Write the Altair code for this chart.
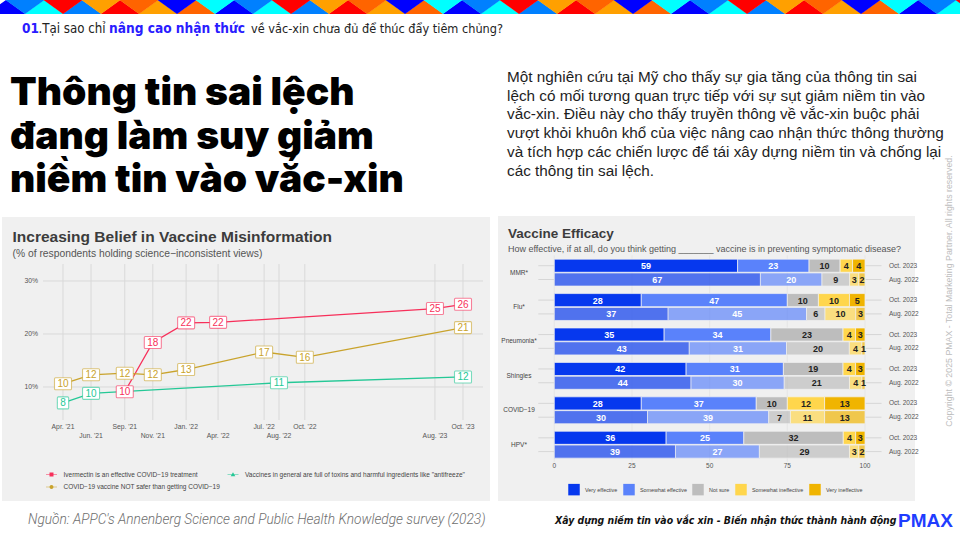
import altair as alt
import pandas as pd

# ---------------- decorative stripe ----------------
STRIPE_PATTERN = ["#00ffff", "#ff0000", "#0080ff", "#ffa000", "#ff0000", "#ff6400",
                  "#ffa000", "#0000ff", "#ff6400", "#00ffff", "#0000ff", "#0080ff"]
STRIPE_COLORS = ["#0000ff", "#0080ff"] + STRIPE_PATTERN * 5

# ---------------- slide texts ----------------
HEADER_NUM = "01"
HEADER_A = ".Tại sao chỉ"
HEADER_B = "nâng cao nhận thức"
HEADER_C = "về vắc-xin chưa đủ để thúc đẩy tiêm chủng?"
TITLE_LINES = ["Thông tin sai lệch", "đang làm suy giảm", "niềm tin vào vắc-xin"]
PARAGRAPH_LINES = [
    "Một nghiên cứu tại Mỹ cho thấy sự gia tăng của thông tin sai",
    "lệch có mối tương quan trực tiếp với sự sụt giảm niềm tin vào",
    "vắc-xin. Điều này cho thấy truyền thông về vắc-xin buộc phải",
    "vượt khỏi khuôn khổ của việc nâng cao nhận thức thông thường",
    "và tích hợp các chiến lược để tái xây dựng niềm tin và chống lại",
    "các thông tin sai lệch.",
]
SOURCE = "Nguồn:  APPC's Annenberg Science and Public Health Knowledge survey (2023)"
TAGLINE = "Xây dựng niềm tin vào vắc xin - Biến nhận thức thành hành động"
LOGO = "PMAX"
COPYRIGHT = "Copyright © 2025 PMAX - Total Marketing Partner. All rights reserved."

# ---------------- line chart data ----------------
LC_TITLE = "Increasing Belief in Vaccine Misinformation"
LC_SUBTITLE = "(% of respondents holding science\u2212inconsistent views)"
WAVE_LABELS = ["Apr. '21", "Jun. '21", "Sep. '21", "Nov. '21", "Jan. '22", "Apr. '22",
               "Jul. '22", "Aug. '22", "Oct. '22", "Aug. '23", "Oct. '23"]
WAVE_DATES = ["2021-04-01", "2021-06-04", "2021-08-20", "2021-10-23", "2022-01-07", "2022-03-21",
              "2022-07-04", "2022-08-07", "2022-10-05", "2023-07-29", "2023-10-01"]
Y_TICKS = [10, 20, 30]
Y_TICK_LABELS = ["10%", "20%", "30%"]

IVER = "Ivermectin is an effective COVID\u221219 treatment"
TOXIN = "Vaccines in general are full of toxins and harmful ingredients like \"antifreeze\""
SAFER = "COVID\u221219 vaccine NOT safer than getting COVID\u221219"
# legend order (the legend grid fills column by column)
SERIES = [IVER, SAFER, TOXIN]
SERIES_COLORS = ["#f72f5a", "#c9a32c", "#25c896"]

IVER_WAVES = ["Sep. '21", "Nov. '21", "Jan. '22", "Apr. '22", "Aug. '23", "Oct. '23"]
IVER_VALUES = [9.1, 18.4, 22.1, 22.2, 24.8, 25.6]
IVER_LABELS = [10, 18, 22, 22, 25, 26]

TOXIN_WAVES = ["Apr. '21", "Jun. '21", "Aug. '22", "Oct. '23"]
TOXIN_VALUES = [7.0, 8.8, 10.8, 11.9]
TOXIN_LABELS = [8, 10, 11, 12]

SAFER_WAVES = ["Apr. '21", "Jun. '21", "Sep. '21", "Nov. '21", "Jan. '22", "Jul. '22", "Oct. '22", "Oct. '23"]
SAFER_VALUES = [10.6, 12.3, 12.6, 12.3, 13.3, 16.6, 15.6, 21.2]
SAFER_LABELS = [10, 12, 12, 12, 13, 17, 16, 21]

# ---------------- bar chart data ----------------
BC_TITLE = "Vaccine Efficacy"
BC_SUBTITLE = "How effective, if at all, do you think getting _______ vaccine is in preventing symptomatic disease?"
VACCINES = ["MMR*", "Flu*", "Pneumonia*", "Shingles", "COVID\u221219", "HPV*"]
WAVES = ["Oct. 2023", "Aug. 2022"]
RESPONSES = ["Very effective", "Somewhat effective", "Not sure", "Somewhat ineffective", "Very ineffective"]
RESP_COLORS = ["#0638ee", "#5a82fb", "#bdbdbd", "#ffd64c", "#f0b400"]
OCT_2023 = [[59, 23, 10, 4, 4], [28, 47, 10, 10, 5], [35, 34, 23, 4, 3],
            [42, 31, 19, 4, 3], [28, 37, 10, 12, 13], [36, 25, 32, 4, 3]]
AUG_2022 = [[67, 20, 9, 3, 2], [37, 45, 6, 10, 3], [43, 31, 20, 4, 1],
            [44, 30, 21, 4, 1], [30, 39, 7, 11, 13], [39, 27, 29, 3, 2]]
BC_TICKS = [0, 25, 50, 75, 100]

# ---------------- styling ----------------
FONT = "Liberation Sans, Arial, Helvetica, sans-serif"
NARROW = "Liberation Sans Narrow, Arial Narrow, DejaVu Sans Condensed, sans-serif"
PANEL = "#f0f0f0"
GRID = "#d9d9d9"
BLUE = "#2a1cff"


def one(text):
    return pd.DataFrame({"t": [text]})


def txt(text, x, y, **kw):
    base = dict(align="left", baseline="alphabetic", font=FONT)
    base.update(kw)
    return alt.Chart(one(text)).mark_text(**base).encode(
        x=alt.value(x), y=alt.value(y), text="t:N")


def panel(x0, x1, y0, y1):
    return alt.Chart(one("")).mark_rect(color=PANEL).encode(
        x=alt.value(x0), x2=alt.value(x1), y=alt.value(y0), y2=alt.value(y1))


# ---------------- stripe ----------------
stripe_df = pd.DataFrame({"i": range(len(STRIPE_COLORS)), "c": STRIPE_COLORS})
stripe_df["up"] = stripe_df["i"] % 2 == 0
TRI_UP = "M-1,0.36L0,-0.36L1,0.36Z"
TRI_DOWN = "M-1,-0.36L1,-0.36L0,0.36Z"
n = len(STRIPE_COLORS)
stripe_x = alt.X("i:Q", scale=alt.Scale(domain=[0, n - 1], range=[6, 6 + 19 * (n - 1)], nice=False, zero=False), axis=None)
stripe_up = alt.Chart(stripe_df).transform_filter("datum.up").mark_point(
    filled=True, size=1521, opacity=1, shape=TRI_UP, strokeWidth=0).encode(
    x=stripe_x, y=alt.value(7), color=alt.Color("c:N", scale=None))
stripe_down = alt.Chart(stripe_df).transform_filter("!datum.up").mark_point(
    filled=True, size=1521, opacity=1, shape=TRI_DOWN, strokeWidth=0).encode(
    x=stripe_x, y=alt.value(7), color=alt.Color("c:N", scale=None))
stripe = alt.layer(stripe_up, stripe_down)

# ---------------- header / title / paragraph ----------------
header = alt.layer(
    txt(HEADER_NUM, 22, 33, font=NARROW, fontSize=13.5, fontWeight="bold", color=BLUE),
    txt(HEADER_A, 38.5, 33, font=NARROW, fontSize=13.2, color="#222"),
    txt(HEADER_B, 109, 33, font=NARROW, fontSize=13.6, fontWeight="bold", color=BLUE),
    txt(HEADER_C, 251, 33, font=NARROW, fontSize=12.6, color="#222"),
)
big_title = txt("\n".join(TITLE_LINES), 10, 105, font="Inter, Roboto, sans-serif", fontSize=39,
                fontWeight=900, color="#000", lineBreak="\n", lineHeight=43.5)
paragraph = txt("\n".join(PARAGRAPH_LINES), 507, 82, fontSize=15.3, color="#1e1e1e",
                lineBreak="\n", lineHeight=18.7)

# ---------------- line chart ----------------
BASE = pd.Timestamp("2021-04-01")
wave_day = {lab: (pd.Timestamp(d) - BASE).days for lab, d in zip(WAVE_LABELS, WAVE_DATES)}
last_day = wave_day[WAVE_LABELS[-1]]
ppd = 400 / last_day
DMIN, DMAX = -20 / ppd, last_day + 20 / ppd
X_LC = alt.Scale(domain=[DMIN, DMAX], range=[43, 483], nice=False, zero=False)
Y_LC = alt.Scale(domain=[0, 35], range=[440, 254.5], nice=False, zero=False)
xq = alt.X("day:Q", scale=X_LC, axis=None)
yq = alt.Y("value:Q", scale=Y_LC, axis=None)

vgrid = pd.DataFrame({"day": [wave_day[w] for w in WAVE_LABELS], "y0": 3.77, "y1": 33.2})
hgrid = pd.DataFrame({"value": Y_TICKS, "lab": Y_TICK_LABELS, "x0": DMIN, "x1": DMAX})
xlab = pd.DataFrame({"day": [wave_day[w] for w in WAVE_LABELS], "lab": WAVE_LABELS})
xlab["row"] = xlab.index % 2

rows = []
for name, waves, vals, labs in [(IVER, IVER_WAVES, IVER_VALUES, IVER_LABELS),
                                 (TOXIN, TOXIN_WAVES, TOXIN_VALUES, TOXIN_LABELS),
                                 (SAFER, SAFER_WAVES, SAFER_VALUES, SAFER_LABELS)]:
    for w, v, l in zip(waves, vals, labs):
        rows.append({"series": name, "day": wave_day[w], "value": v, "label": str(l), "digits": len(str(l))})
lc_df = pd.DataFrame(rows)

SQ = "M-1,-0.06H1V0.06H-1Z M-0.36,-0.36H0.36V0.36H-0.36Z"
TRI = "M-1,-0.06H1V0.06H-1Z M0,-0.42L0.42,0.3H-0.42Z"
CIRC = "M-1,-0.06H1V0.06H-1Z M-0.36,0A0.36,0.36 0 1 1 0.36,0A0.36,0.36 0 1 1 -0.36,0Z"
r = 0.12
BOX2 = (f"M{-1 + r},-0.706H{1 - r}A{r},{r} 0 0 1 1,{-0.706 + r}V{0.706 - r}A{r},{r} 0 0 1 {1 - r},0.706"
        f"H{-1 + r}A{r},{r} 0 0 1 -1,{0.706 - r}V{-0.706 + r}A{r},{r} 0 0 1 {-1 + r},-0.706Z")
w1 = 0.665
BOX1 = (f"M{-w1 + r},-0.706H{w1 - r}A{r},{r} 0 0 1 {w1},{-0.706 + r}V{0.706 - r}A{r},{r} 0 0 1 {w1 - r},0.706"
        f"H{-w1 + r}A{r},{r} 0 0 1 {-w1},{0.706 - r}V{-0.706 + r}A{r},{r} 0 0 1 {-w1 + r},-0.706Z")

lc_grid_v = alt.Chart(vgrid).mark_rule(color=GRID, strokeWidth=1).encode(
    x=xq, y=alt.Y("y0:Q", scale=Y_LC, axis=None), y2="y1:Q")
lc_grid_h = alt.Chart(hgrid).mark_rule(color=GRID, strokeWidth=1).encode(
    x=alt.X("x0:Q", scale=X_LC, axis=None), x2="x1:Q", y=yq)
lc_ylab = alt.Chart(hgrid).mark_text(align="right", baseline="middle", fontSize=6.8, color="#555", font=FONT).encode(
    x=alt.value(38), y=yq, text="lab:N")
lc_xlab0 = alt.Chart(xlab).transform_filter("datum.row == 0").mark_text(
    align="center", baseline="middle", fontSize=6.8, color="#555", font=FONT).encode(
    x=xq, y=alt.value(427), text="lab:N")
lc_xlab1 = alt.Chart(xlab).transform_filter("datum.row == 1").mark_text(
    align="center", baseline="middle", fontSize=6.8, color="#555", font=FONT).encode(
    x=xq, y=alt.value(436), text="lab:N")

# stroke / fill scales use a reversed domain order so their (hidden) legends are not
# merged with the visible colour+shape legend
REV_SERIES = SERIES[::-1]
REV_COLORS = SERIES_COLORS[::-1]
series_stroke = alt.Stroke("series:N", scale=alt.Scale(domain=REV_SERIES, range=REV_COLORS), legend=None)
lc_lines = alt.Chart(lc_df).mark_line(strokeWidth=1.3).encode(
    x=xq, y=yq, stroke=series_stroke, detail="series:N", order="day:Q")
legend_lc = alt.Legend(title=None, orient="none", legendX=46, legendY=469, columns=2,
                       symbolSize=121, labelFontSize=6.5, labelColor="#444", labelFont=FONT,
                       labelOffset=6.5, columnPadding=7.5, rowPadding=3.5, symbolStrokeWidth=0,
                       symbolOpacity=1, padding=0, labelLimit=400)
lc_points = alt.Chart(lc_df).mark_point(filled=True, size=121, opacity=1, strokeWidth=0).encode(
    x=xq, y=yq,
    color=alt.Color("series:N", scale=alt.Scale(domain=SERIES, range=SERIES_COLORS), legend=legend_lc),
    shape=alt.Shape("series:N", scale=alt.Scale(domain=SERIES, range=[SQ, CIRC, TRI]), legend=legend_lc))
lc_box2 = alt.Chart(lc_df).transform_filter("datum.digits == 2").mark_point(
    filled=True, fill="white", size=289, shape=BOX2, strokeWidth=1.1, strokeOpacity=0.6, opacity=1).encode(
    x=xq, y=yq, stroke=series_stroke)
lc_box1 = alt.Chart(lc_df).transform_filter("datum.digits == 1").mark_point(
    filled=True, fill="white", size=289, shape=BOX1, strokeWidth=1.1, strokeOpacity=0.6, opacity=1).encode(
    x=xq, y=yq, stroke=series_stroke)
lc_text = alt.Chart(lc_df).mark_text(fontSize=10, baseline="middle", align="center", font=FONT, dy=0.5).encode(
    x=xq, y=yq, text="label:N",
    fill=alt.Fill("series:N", scale=alt.Scale(domain=REV_SERIES, range=REV_COLORS), legend=None))

line_chart = alt.layer(lc_grid_v, lc_grid_h, lc_ylab, lc_xlab0, lc_xlab1, lc_lines, lc_points,
                       lc_box2, lc_box1, lc_text)

lc_titles = alt.layer(
    txt(LC_TITLE, 12.5, 241.5, fontSize=15.5, fontWeight="bold", color="#3c3c3c"),
    txt(LC_SUBTITLE, 12.5, 256.5, fontSize=10.3, color="#555"),
)

# ---------------- bar chart ----------------
ROW_STEP = 0.401
HALF = 0.19
brows = []
for g, vac in enumerate(VACCINES):
    for w, (wave, table) in enumerate(zip(WAVES, [OCT_2023, AUG_2022])):
        vals = table[g]
        tot = sum(vals)
        cum = 0
        for resp, v in zip(RESPONSES, vals):
            brows.append({"vaccine": vac, "wave": wave, "resp": resp, "v": v,
                          "x0": cum / tot * 100, "x1": (cum + v) / tot * 100,
                          "pos": g + w * ROW_STEP})
            cum += v
bc_df = pd.DataFrame(brows)
bc_df["y0"] = bc_df["pos"] - HALF
bc_df["y1"] = bc_df["pos"] + HALF
bc_df["mid"] = (bc_df["x0"] + bc_df["x1"]) / 2
bc_df["light"] = bc_df["resp"].isin(RESPONSES[:2])

Y_MAX = len(VACCINES) - 1 + ROW_STEP
X_BC = alt.Scale(domain=[0, 100], range=[554.3, 865], nice=False, zero=False)
Y_BC = alt.Scale(domain=[0, Y_MAX], range=[265.7, 451.6], nice=False, zero=False)

bgrid = pd.DataFrame({"v": BC_TICKS, "lab": [str(t) for t in BC_TICKS], "y0": -0.3, "y1": Y_MAX + 0.3})
cats = pd.DataFrame({"vaccine": VACCINES, "pos": [g + ROW_STEP / 2 for g in range(len(VACCINES))]})
wrows = bc_df.drop_duplicates(["vaccine", "wave"])[["vaccine", "wave", "pos"]]

bc_grid = alt.Chart(bgrid).mark_rule(color="#e3e3e3", strokeWidth=0.8).encode(
    x=alt.X("v:Q", scale=X_BC, axis=None), y=alt.Y("y0:Q", scale=Y_BC, axis=None), y2="y1:Q")
bc_xlab = alt.Chart(bgrid).mark_text(baseline="middle", align="center", fontSize=6.5, color="#555", font=FONT).encode(
    x=alt.X("v:Q", scale=X_BC, axis=None), y=alt.value(466), text="lab:N")
bc_ltick = alt.Chart(wrows).mark_rule(color="#cfcfcf", strokeWidth=0.8).encode(
    x=alt.value(538.3), x2=alt.value(554), y=alt.Y("pos:Q", scale=Y_BC, axis=None))
bc_rtick = alt.Chart(wrows).mark_rule(color="#cfcfcf", strokeWidth=0.8).encode(
    x=alt.value(865.5), x2=alt.value(881.5), y=alt.Y("pos:Q", scale=Y_BC, axis=None))
bc_wlab = alt.Chart(wrows).mark_text(align="left", baseline="middle", fontSize=6.5, color="#555", font=FONT).encode(
    x=alt.value(889), y=alt.Y("pos:Q", scale=Y_BC, axis=None), text="wave:N")
bc_cat = alt.Chart(cats).mark_text(align="center", baseline="middle", fontSize=6.5, color="#444", font=FONT).encode(
    x=alt.value(519), y=alt.Y("pos:Q", scale=Y_BC, axis=None), text="vaccine:N")
legend_bc = alt.Legend(title=None, orient="none", legendX=568, legendY=483.5, direction="horizontal",
                       symbolType="square", symbolSize=132, labelFontSize=5.4, labelColor="#444",
                       labelFont=FONT, labelOffset=5, columnPadding=5, symbolStrokeWidth=0,
                       symbolOpacity=1, padding=0)
bc_bars = alt.Chart(bc_df).mark_rect(stroke="#f4f4f4", strokeWidth=0.7).encode(
    x=alt.X("x0:Q", scale=X_BC, axis=None), x2="x1:Q",
    y=alt.Y("y0:Q", scale=Y_BC, axis=None), y2="y1:Q",
    color=alt.Color("resp:N", scale=alt.Scale(domain=RESPONSES, range=RESP_COLORS), sort=RESPONSES,
                    legend=legend_bc),
    opacity=alt.Opacity("wave:N", scale=alt.Scale(domain=WAVES, range=[1.0, 0.68]), legend=None))
bc_text_w = alt.Chart(bc_df).transform_filter("datum.light").mark_text(
    fontSize=9, fontWeight="bold", color="white", baseline="middle", align="center", font=FONT, dy=0.5).encode(
    x=alt.X("mid:Q", scale=X_BC, axis=None), y=alt.Y("pos:Q", scale=Y_BC, axis=None), text="v:N")
bc_text_d = alt.Chart(bc_df).transform_filter("!datum.light").mark_text(
    fontSize=9, fontWeight="bold", color="#222", baseline="middle", align="center", font=FONT, dy=0.5).encode(
    x=alt.X("mid:Q", scale=X_BC, axis=None), y=alt.Y("pos:Q", scale=Y_BC, axis=None), text="v:N")

bar_chart = alt.layer(bc_grid, bc_xlab, bc_ltick, bc_rtick, bc_wlab, bc_cat, bc_bars, bc_text_w, bc_text_d)

bc_titles = alt.layer(
    txt(BC_TITLE, 508, 238, fontSize=13.5, fontWeight="bold", color="#3c3c3c"),
    txt(BC_SUBTITLE, 508, 251.5, fontSize=9.0, color="#555"),
)

# ---------------- footer ----------------
footer = alt.layer(
    txt(SOURCE, 28, 523.5, font="Roboto, sans-serif", fontSize=13.7, fontStyle="italic", fontWeight=300, color="#6e6e6e"),
    txt(TAGLINE, 555, 524, font=NARROW, fontSize=10.4, fontStyle="italic", fontWeight="bold", color="#111"),
    txt(LOGO, 898, 527, font=FONT, fontSize=19, fontWeight="bold", color="#1f3dff"),
    alt.Chart(one(COPYRIGHT)).mark_text(angle=270, align="center", baseline="middle", fontSize=8.8,
                                        color="#bdbdbd", font=FONT).encode(
        x=alt.value(949), y=alt.value(291), text="t:N"),
)

chart = alt.layer(
    panel(2, 490, 217, 501), panel(498, 915, 216, 501),
    stripe, header, big_title, paragraph,
    lc_titles, line_chart, bc_titles, bar_chart, footer,
).resolve_scale(
    x="independent", y="independent", color="independent", shape="independent",
    stroke="independent", fill="independent", opacity="independent",
).properties(
    width=960, height=540, background="white", padding=0,
    autosize=alt.AutoSizeParams(type="none"),
).configure_view(stroke=None)

chart.save("out.html", embed_options={"renderer": "svg", "actions": False})
